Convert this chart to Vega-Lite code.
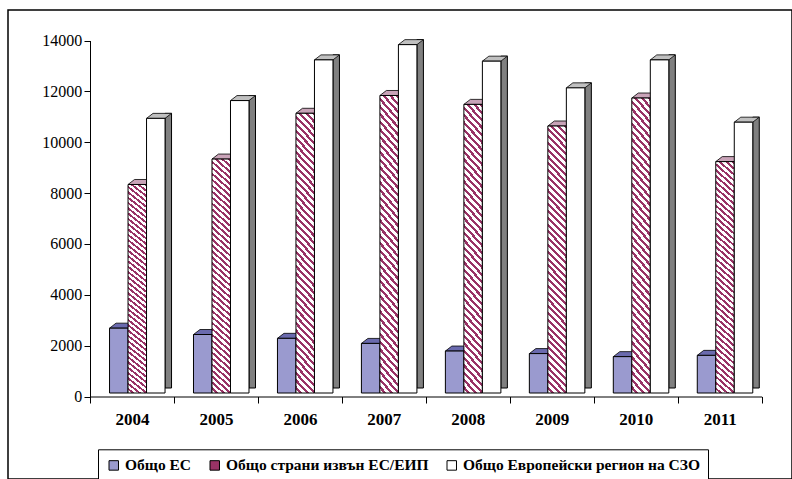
{
  "$schema": "https://vega.github.io/schema/vega-lite/v6.json",
  "width": 784,
  "height": 469,
  "autosize": {"type": "none"},
  "padding": {"left": 8, "top": 10, "right": 0, "bottom": 0},
  "background": "white",
  "config": {"view": {"stroke": "black", "strokeWidth": 1.5}, "font": "Liberation Serif"},
  "data": {"values": [
    {"year": "2004", "series": "Общо ЕС", "value": 2550},
    {"year": "2004", "series": "Общо страни извън ЕС/ЕИП", "value": 8200},
    {"year": "2004", "series": "Общо Европейски регион на СЗО", "value": 10800},
    {"year": "2005", "series": "Общо ЕС", "value": 2300},
    {"year": "2005", "series": "Общо страни извън ЕС/ЕИП", "value": 9200},
    {"year": "2005", "series": "Общо Европейски регион на СЗО", "value": 11500},
    {"year": "2006", "series": "Общо ЕС", "value": 2150},
    {"year": "2006", "series": "Общо страни извън ЕС/ЕИП", "value": 11000},
    {"year": "2006", "series": "Общо Европейски регион на СЗО", "value": 13100},
    {"year": "2007", "series": "Общо ЕС", "value": 1950},
    {"year": "2007", "series": "Общо страни извън ЕС/ЕИП", "value": 11700},
    {"year": "2007", "series": "Общо Европейски регион на СЗО", "value": 13700},
    {"year": "2008", "series": "Общо ЕС", "value": 1650},
    {"year": "2008", "series": "Общо страни извън ЕС/ЕИП", "value": 11350},
    {"year": "2008", "series": "Общо Европейски регион на СЗО", "value": 13050},
    {"year": "2009", "series": "Общо ЕС", "value": 1550},
    {"year": "2009", "series": "Общо страни извън ЕС/ЕИП", "value": 10500},
    {"year": "2009", "series": "Общо Европейски регион на СЗО", "value": 12000},
    {"year": "2010", "series": "Общо ЕС", "value": 1430},
    {"year": "2010", "series": "Общо страни извън ЕС/ЕИП", "value": 11600},
    {"year": "2010", "series": "Общо Европейски регион на СЗО", "value": 13100},
    {"year": "2011", "series": "Общо ЕС", "value": 1480},
    {"year": "2011", "series": "Общо страни извън ЕС/ЕИП", "value": 9100},
    {"year": "2011", "series": "Общо Европейски регион на СЗО", "value": 10650}
  ]},
  "encoding": {
    "x": {
      "field": "year", "type": "ordinal",
      "scale": {"domain": ["2004","2005","2006","2007","2008","2009","2010","2011"], "range": [82, 753.7], "paddingInner": 0, "paddingOuter": 0},
      "axis": {"title": null, "orient": "bottom", "offset": -82.5, "domainColor": "black", "domainWidth": 1, "tickColor": "black", "tickSize": 6.5, "tickBand": "extent", "labelFont": "Liberation Serif", "labelFontSize": 17, "labelFontWeight": "bold", "labelColor": "black", "labelPadding": 8, "labelAngle": 0, "grid": false}
    },
    "y": {
      "field": "value", "type": "quantitative",
      "scale": {"domain": [0, 14000], "range": [386.5, 30.5], "nice": false},
      "axis": {"title": null, "offset": -82, "values": [0,2000,4000,6000,8000,10000,12000,14000], "format": "d", "domainColor": "black", "domainWidth": 1, "tickColor": "black", "tickSize": 6, "labelFont": "Liberation Serif", "labelFontSize": 16, "labelColor": "black", "labelPadding": 2.3, "grid": false}
    }
  },
  "layer": [
    {"data": {"values": [{}]}, "mark": {"type": "rule", "color": "#808080", "strokeWidth": 1, "xOffset": -26, "x2Offset": 58.3, "yOffset": -12},
     "encoding": {"x": {"datum": "2004", "type": "ordinal"}, "x2": {"datum": "2011"}, "y": {"datum": 14000, "type": "quantitative"}}},
    {"data": {"values": [{}]}, "mark": {"type": "rule", "color": "#808080", "strokeWidth": 1, "xOffset": -26, "x2Offset": 58.3, "yOffset": -12},
     "encoding": {"x": {"datum": "2004", "type": "ordinal"}, "x2": {"datum": "2011"}, "y": {"datum": 0, "type": "quantitative"}}},
    {"data": {"values": [{}]}, "mark": {"type": "rule", "color": "#808080", "strokeWidth": 1, "xOffset": -26, "yOffset": -12, "y2Offset": -12},
     "encoding": {"x": {"datum": "2004", "type": "ordinal"}, "y": {"datum": 0, "type": "quantitative"}, "y2": {"datum": 14000}}},
    {"data": {"values": [{}]}, "mark": {"type": "rule", "color": "#808080", "strokeWidth": 1, "xOffset": 58.3, "yOffset": -12, "y2Offset": -12},
     "encoding": {"x": {"datum": "2011", "type": "ordinal"}, "y": {"datum": 0, "type": "quantitative"}, "y2": {"datum": 14000}}},
    {"data": {"values": [{}]}, "mark": {"type": "rule", "color": "#808080", "strokeWidth": 1, "xOffset": -42, "x2Offset": -26, "yOffset": 0, "y2Offset": -12},
     "encoding": {"x": {"datum": "2004", "type": "ordinal"}, "x2": {"datum": "2004"}, "y": {"datum": 14000, "type": "quantitative"}, "y2": {"datum": 14000}}},
    {"data": {"values": [{}]}, "mark": {"type": "rule", "color": "#808080", "strokeWidth": 1, "xOffset": -42, "x2Offset": -26, "yOffset": 0, "y2Offset": -12},
     "encoding": {"x": {"datum": "2004", "type": "ordinal"}, "x2": {"datum": "2004"}, "y": {"datum": 0, "type": "quantitative"}, "y2": {"datum": 0}}},
    {"data": {"values": [{}]}, "mark": {"type": "rule", "color": "#404040", "strokeWidth": 1, "xOffset": 42, "x2Offset": 58.3, "yOffset": 0, "y2Offset": -12},
     "encoding": {"x": {"datum": "2011", "type": "ordinal"}, "x2": {"datum": "2011"}, "y": {"datum": 0, "type": "quantitative"}, "y2": {"datum": 0}}},
    {
      "transform": [{"filter": "datum.series === 'Общо ЕС'"}],
      "layer": [
        {"mark": {"type": "point", "shape": "M-9.25,0L9.25,0L15.75,-5L-2.75,-5Z", "size": 4, "filled": true, "fill": "#6a6aae", "stroke": "black", "strokeWidth": 0.8, "opacity": 1, "xOffset": -13.2, "yOffset": -3.5}},
        {"mark": {"type": "bar", "width": 18.5, "xOffset": -13.2, "yOffset": -3.5, "y2Offset": -3.5, "stroke": "black", "strokeWidth": 1},
         "encoding": {"color": {"field": "series", "type": "nominal",
           "scale": {"domain": ["Общо ЕС", "Общо страни извън ЕС/ЕИП", "Общо Европейски регион на СЗО"], "range": ["#9a9acf", "#993366", "#ffffff"]},
           "legend": {"title": null, "orient": "none", "legendX": 90, "legendY": 439.3, "direction": "horizontal", "symbolType": "square", "symbolSize": 90, "symbolStrokeWidth": 1, "symbolOpacity": 1, "labelFont": "Liberation Serif", "labelFontSize": 15.5, "labelFontWeight": "bold", "labelColor": "black", "labelOffset": 3.5, "columnPadding": 15, "padding": 8, "strokeColor": "black", "fillColor": "white", "labelLimit": 400,
             "encode": {"symbols": {"stroke": {"value": "black"}, "strokeWidth": {"value": 1}}}}}}}
      ]
    },
    {
      "transform": [{"filter": "datum.series === 'Общо страни извън ЕС/ЕИП'"}],
      "layer": [
        {"mark": {"type": "point", "shape": "M-9.25,0L9.25,0L15.75,-5L-2.75,-5Z", "size": 4, "filled": true, "fill": "#c9a3b8", "stroke": "black", "strokeWidth": 0.8, "opacity": 1, "xOffset": 5.3, "yOffset": -3.5}},
        {"mark": {"type": "bar", "width": 18.5, "xOffset": 5.3, "yOffset": -3.5, "y2Offset": -3.5, "stroke": "black", "strokeWidth": 1,
          "fill": {"gradient": "linear", "x1": 1, "y1": 0, "x2": 0.9248, "y2": 1.0653, "stops": [
{"offset":0,"color":"#936"},{"offset":0.0107,"color":"#936"},{"offset":0.0107,"color":"#fff"},{"offset":0.0238,"color":"#fff"},
{"offset":0.0238,"color":"#936"},{"offset":0.0345,"color":"#936"},{"offset":0.0345,"color":"#fff"},{"offset":0.0476,"color":"#fff"},
{"offset":0.0476,"color":"#936"},{"offset":0.0583,"color":"#936"},{"offset":0.0583,"color":"#fff"},{"offset":0.0714,"color":"#fff"},
{"offset":0.0714,"color":"#936"},{"offset":0.0821,"color":"#936"},{"offset":0.0821,"color":"#fff"},{"offset":0.0952,"color":"#fff"},
{"offset":0.0952,"color":"#936"},{"offset":0.106,"color":"#936"},{"offset":0.106,"color":"#fff"},{"offset":0.119,"color":"#fff"},
{"offset":0.119,"color":"#936"},{"offset":0.1298,"color":"#936"},{"offset":0.1298,"color":"#fff"},{"offset":0.1429,"color":"#fff"},
{"offset":0.1429,"color":"#936"},{"offset":0.1536,"color":"#936"},{"offset":0.1536,"color":"#fff"},{"offset":0.1667,"color":"#fff"},
{"offset":0.1667,"color":"#936"},{"offset":0.1774,"color":"#936"},{"offset":0.1774,"color":"#fff"},{"offset":0.1905,"color":"#fff"},
{"offset":0.1905,"color":"#936"},{"offset":0.2012,"color":"#936"},{"offset":0.2012,"color":"#fff"},{"offset":0.2143,"color":"#fff"},
{"offset":0.2143,"color":"#936"},{"offset":0.225,"color":"#936"},{"offset":0.225,"color":"#fff"},{"offset":0.2381,"color":"#fff"},
{"offset":0.2381,"color":"#936"},{"offset":0.2488,"color":"#936"},{"offset":0.2488,"color":"#fff"},{"offset":0.2619,"color":"#fff"},
{"offset":0.2619,"color":"#936"},{"offset":0.2726,"color":"#936"},{"offset":0.2726,"color":"#fff"},{"offset":0.2857,"color":"#fff"},
{"offset":0.2857,"color":"#936"},{"offset":0.2964,"color":"#936"},{"offset":0.2964,"color":"#fff"},{"offset":0.3095,"color":"#fff"},
{"offset":0.3095,"color":"#936"},{"offset":0.3202,"color":"#936"},{"offset":0.3202,"color":"#fff"},{"offset":0.3333,"color":"#fff"},
{"offset":0.3333,"color":"#936"},{"offset":0.344,"color":"#936"},{"offset":0.344,"color":"#fff"},{"offset":0.3571,"color":"#fff"},
{"offset":0.3571,"color":"#936"},{"offset":0.3679,"color":"#936"},{"offset":0.3679,"color":"#fff"},{"offset":0.381,"color":"#fff"},
{"offset":0.381,"color":"#936"},{"offset":0.3917,"color":"#936"},{"offset":0.3917,"color":"#fff"},{"offset":0.4048,"color":"#fff"},
{"offset":0.4048,"color":"#936"},{"offset":0.4155,"color":"#936"},{"offset":0.4155,"color":"#fff"},{"offset":0.4286,"color":"#fff"},
{"offset":0.4286,"color":"#936"},{"offset":0.4393,"color":"#936"},{"offset":0.4393,"color":"#fff"},{"offset":0.4524,"color":"#fff"},
{"offset":0.4524,"color":"#936"},{"offset":0.4631,"color":"#936"},{"offset":0.4631,"color":"#fff"},{"offset":0.4762,"color":"#fff"},
{"offset":0.4762,"color":"#936"},{"offset":0.4869,"color":"#936"},{"offset":0.4869,"color":"#fff"},{"offset":0.5,"color":"#fff"},
{"offset":0.5,"color":"#936"},{"offset":0.5107,"color":"#936"},{"offset":0.5107,"color":"#fff"},{"offset":0.5238,"color":"#fff"},
{"offset":0.5238,"color":"#936"},{"offset":0.5345,"color":"#936"},{"offset":0.5345,"color":"#fff"},{"offset":0.5476,"color":"#fff"},
{"offset":0.5476,"color":"#936"},{"offset":0.5583,"color":"#936"},{"offset":0.5583,"color":"#fff"},{"offset":0.5714,"color":"#fff"},
{"offset":0.5714,"color":"#936"},{"offset":0.5821,"color":"#936"},{"offset":0.5821,"color":"#fff"},{"offset":0.5952,"color":"#fff"},
{"offset":0.5952,"color":"#936"},{"offset":0.606,"color":"#936"},{"offset":0.606,"color":"#fff"},{"offset":0.619,"color":"#fff"},
{"offset":0.619,"color":"#936"},{"offset":0.6298,"color":"#936"},{"offset":0.6298,"color":"#fff"},{"offset":0.6429,"color":"#fff"},
{"offset":0.6429,"color":"#936"},{"offset":0.6536,"color":"#936"},{"offset":0.6536,"color":"#fff"},{"offset":0.6667,"color":"#fff"},
{"offset":0.6667,"color":"#936"},{"offset":0.6774,"color":"#936"},{"offset":0.6774,"color":"#fff"},{"offset":0.6905,"color":"#fff"},
{"offset":0.6905,"color":"#936"},{"offset":0.7012,"color":"#936"},{"offset":0.7012,"color":"#fff"},{"offset":0.7143,"color":"#fff"},
{"offset":0.7143,"color":"#936"},{"offset":0.725,"color":"#936"},{"offset":0.725,"color":"#fff"},{"offset":0.7381,"color":"#fff"},
{"offset":0.7381,"color":"#936"},{"offset":0.7488,"color":"#936"},{"offset":0.7488,"color":"#fff"},{"offset":0.7619,"color":"#fff"},
{"offset":0.7619,"color":"#936"},{"offset":0.7726,"color":"#936"},{"offset":0.7726,"color":"#fff"},{"offset":0.7857,"color":"#fff"},
{"offset":0.7857,"color":"#936"},{"offset":0.7964,"color":"#936"},{"offset":0.7964,"color":"#fff"},{"offset":0.8095,"color":"#fff"},
{"offset":0.8095,"color":"#936"},{"offset":0.8202,"color":"#936"},{"offset":0.8202,"color":"#fff"},{"offset":0.8333,"color":"#fff"},
{"offset":0.8333,"color":"#936"},{"offset":0.844,"color":"#936"},{"offset":0.844,"color":"#fff"},{"offset":0.8571,"color":"#fff"},
{"offset":0.8571,"color":"#936"},{"offset":0.8679,"color":"#936"},{"offset":0.8679,"color":"#fff"},{"offset":0.881,"color":"#fff"},
{"offset":0.881,"color":"#936"},{"offset":0.8917,"color":"#936"},{"offset":0.8917,"color":"#fff"},{"offset":0.9048,"color":"#fff"},
{"offset":0.9048,"color":"#936"},{"offset":0.9155,"color":"#936"},{"offset":0.9155,"color":"#fff"},{"offset":0.9286,"color":"#fff"},
{"offset":0.9286,"color":"#936"},{"offset":0.9393,"color":"#936"},{"offset":0.9393,"color":"#fff"},{"offset":0.9524,"color":"#fff"},
{"offset":0.9524,"color":"#936"},{"offset":0.9631,"color":"#936"},{"offset":0.9631,"color":"#fff"},{"offset":0.9762,"color":"#fff"},
{"offset":0.9762,"color":"#936"},{"offset":0.9869,"color":"#936"},{"offset":0.9869,"color":"#fff"},{"offset":1,"color":"#fff"}
          ]}}}
      ]
    },
    {
      "transform": [{"filter": "datum.series === 'Общо Европейски регион на СЗО'"}],
      "layer": [
        {"mark": {"type": "bar", "width": 6.5, "xOffset": 36.3, "yOffset": -8.5, "y2Offset": -5.5, "fill": "#808080", "stroke": "black", "strokeWidth": 1}},
        {"mark": {"type": "point", "shape": "M-9.25,0L9.25,0L15.75,-5L-2.75,-5Z", "size": 4, "filled": true, "fill": "#c0c0c0", "stroke": "black", "strokeWidth": 0.8, "opacity": 1, "xOffset": 23.8, "yOffset": -3.5}},
        {"mark": {"type": "bar", "width": 18.5, "xOffset": 23.8, "yOffset": -3.5, "y2Offset": -3.5, "stroke": "black", "strokeWidth": 1},
         "encoding": {"color": {"field": "series", "type": "nominal",
           "scale": {"domain": ["Общо ЕС", "Общо страни извън ЕС/ЕИП", "Общо Европейски регион на СЗО"], "range": ["#9a9acf", "#993366", "#ffffff"]}}}}
      ]
    }
  ]
}
